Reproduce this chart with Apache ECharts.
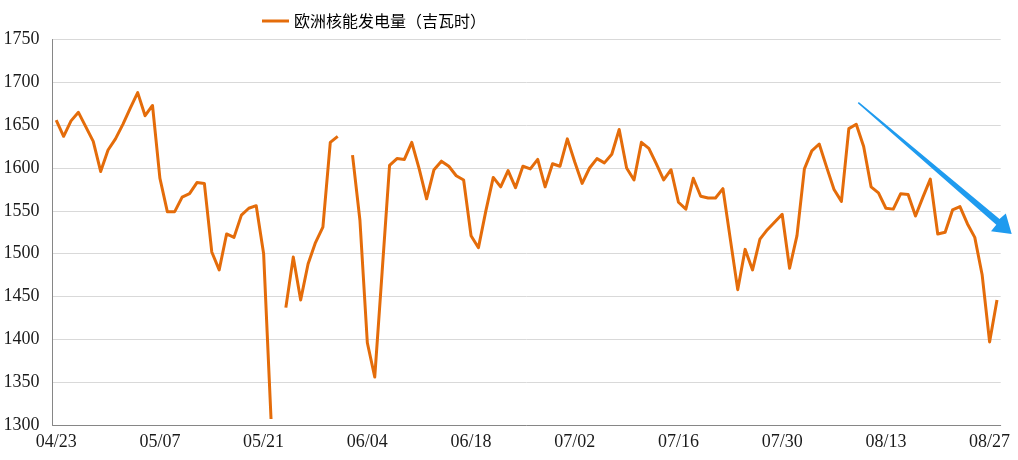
<!DOCTYPE html>
<html>
<head>
<meta charset="utf-8">
<script src="https://cdn.jsdelivr.net/npm/echarts@6/dist/echarts.min.js"></script>
<style>
html,body{margin:0;padding:0;background:#fff;}
#chart{width:1018px;height:460px;}
</style>
</head>
<body>
<div id="chart"></div>
<script>
// ---- data ----
const startDate = {month: 4, day: 23};
const dayCount = 128; // 04/23 .. 08/28
const seriesName = '欧洲核能发电量（吉瓦时）';
const values = [
  1656, 1637, 1655, 1665, 1648, 1631, 1596, 1621, 1634, 1651,
  1670, 1688, 1661, 1673, 1588, 1549, 1549, 1566, 1570, 1583,
  1582, 1502, 1481, 1523, 1519, 1545, 1553, 1556, 1500, 1307,
  null, 1437, 1496, 1446, 1488, 1513, 1531, 1630, 1637, null,
  1615, 1539, 1396, 1356, 1479, 1603, 1611, 1610, 1630, 1599,
  1564, 1598, 1608, 1602, 1591, 1586, 1521, 1507, 1550, 1589,
  1578, 1597, 1577, 1602, 1599, 1610, 1578, 1605, 1602, 1634,
  1607, 1582, 1600, 1611, 1606, 1616, 1645, 1600, 1586, 1630,
  1623, 1605, 1586, 1598, 1560, 1552, 1588, 1567, 1565, 1565,
  1576, 1517, 1458, 1505, 1481, 1517, 1528, 1537, 1546, 1483,
  1521, 1599, 1620, 1628, 1601, 1575, 1561, 1646, 1651, 1625,
  1578, 1571, 1553, 1552, 1570, 1569, 1544, 1566, 1587, 1523,
  1525, 1551, 1555, 1535, 1519, 1475, 1397, 1446
];
const yTicks = {min: 1300, max: 1750, step: 50};

// build category labels (MM/DD), daily
function buildDates() {
  const out = [];
  const d = new Date(2022, startDate.month - 1, startDate.day);
  for (let i = 0; i < dayCount; i++) {
    const mm = String(d.getMonth() + 1).padStart(2, '0');
    const dd = String(d.getDate()).padStart(2, '0');
    out.push(mm + '/' + dd);
    d.setDate(d.getDate() + 1);
  }
  return out;
}
const categories = buildDates();

const chart = echarts.init(document.getElementById('chart'), null, {renderer: 'canvas'});
const axisFont = {fontFamily: '"Liberation Serif", "Times New Roman", serif', fontSize: 18, color: '#1a1a1a'};

chart.setOption({
  animation: false,
  backgroundColor: '#ffffff',
  grid: {left: 52.5, right: 17.3, top: 39.5, bottom: 35, containLabel: false, outerBoundsMode: 'none'},
  legend: {
    show: true,
    left: 262,
    top: 13,
    padding: 0,
    icon: 'rect',
    itemWidth: 27,
    itemHeight: 3,
    itemGap: 10,
    textStyle: {fontFamily: '"Noto Sans CJK SC", sans-serif', fontSize: 16, color: '#000'},
    data: [seriesName]
  },
  xAxis: {
    type: 'category',
    data: categories,
    boundaryGap: true,
    axisLine: {show: true, lineStyle: {color: '#868686', width: 1}},
    axisTick: {show: false},
    axisLabel: Object.assign({interval: 13, margin: 8}, axisFont),
    splitLine: {show: false}
  },
  yAxis: {
    type: 'value',
    min: yTicks.min,
    max: yTicks.max,
    interval: yTicks.step,
    axisLine: {show: true, lineStyle: {color: '#868686', width: 1}},
    axisTick: {show: false},
    axisLabel: Object.assign({margin: 13, formatter: function (v) { return String(v); }}, axisFont),
    splitLine: {show: true, lineStyle: {color: '#d9d9d9', width: 1}}
  },
  series: [{
    name: seriesName,
    type: 'line',
    data: values,
    showSymbol: false,
    symbol: 'none',
    connectNulls: false,
    lineStyle: {color: '#E46C0A', width: 3, join: 'round'},
    itemStyle: {color: '#E46C0A'}
  }],
  graphic: [{
    type: 'polygon',
    z: 100,
    shape: {
      points: [
        [858.8, 102.1], [999.5, 218.9], [1005.8, 213.6], [1011.7, 234],
        [991.0, 231.2], [996.3, 224.8], [857.8, 103.3]
      ]
    },
    style: {fill: '#1F9BEF'}
  }]
});
</script>
</body>
</html>
